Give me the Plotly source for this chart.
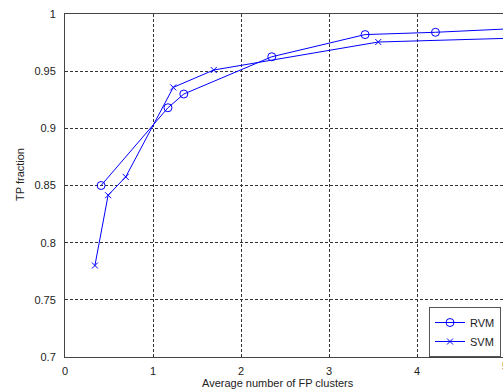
import plotly.graph_objects as go

# Data
rvm_x = [0.41, 1.17, 1.35, 2.35, 3.41, 4.21, 5.6]
rvm_y = [0.850, 0.918, 0.930, 0.9626, 0.982, 0.984, 0.989]
svm_x = [0.34, 0.49, 0.69, 1.23, 1.69, 3.56, 5.6]
svm_y = [0.780, 0.8415, 0.8575, 0.9358, 0.951, 0.9755, 0.980]

x_ticks = [0, 1, 2, 3, 4]
y_ticks = [0.7, 0.75, 0.8, 0.85, 0.9, 0.95, 1.0]
y_tick_text = ["0.7", "0.75", "0.8", "0.85", "0.9", "0.95", "1"]

BLUE = "#0000ff"
FONT = "Liberation Sans, Arial, sans-serif"

fig = go.Figure()
fig.add_trace(go.Scatter(
    x=rvm_x, y=rvm_y, name="RVM", mode="lines+markers",
    line=dict(color=BLUE, width=1),
    marker=dict(symbol="circle-open", size=8, color=BLUE, line=dict(width=1, color=BLUE)),
))
fig.add_trace(go.Scatter(
    x=svm_x, y=svm_y, name="SVM", mode="lines+markers",
    line=dict(color=BLUE, width=1),
    marker=dict(symbol="x-thin-open", size=6, color=BLUE, line=dict(width=1, color=BLUE)),
))

W, H = 503, 391
ML, MT, MB, MR = 65, 14, 34, 0
pw = W - ML - MR
ph = H - MT - MB
px_per_unit = 88.0

fig.update_layout(
    width=W, height=H,
    margin=dict(l=ML, r=MR, t=MT, b=MB, pad=0),
    paper_bgcolor="white", plot_bgcolor="white",
    font=dict(family=FONT, size=11, color="#222222"),
    showlegend=True,
    legend=dict(
        x=(429 - ML) / pw, y=0, xanchor="left", yanchor="bottom",
        bgcolor="white", bordercolor="#555555", borderwidth=1,
        font=dict(size=11, color="#222222"),
        tracegroupgap=0, itemwidth=30, entrywidth=90,
    ),
    xaxis=dict(
        range=[0, pw / px_per_unit], tickvals=x_ticks,
        showgrid=True, gridcolor="#333333", griddash="3px,2px", gridwidth=1,
        zeroline=False, showline=True, linecolor="#444444", linewidth=1, mirror=True,
        ticks="", ticklabelstandoff=4,
    ),
    yaxis=dict(
        range=[0.7, 1.0], tickvals=y_ticks, ticktext=y_tick_text,
        showgrid=True, gridcolor="#333333", griddash="3px,2px", gridwidth=1,
        zeroline=False, showline=True, linecolor="#444444", linewidth=1, mirror=True,
        ticks="", ticklabelstandoff=6,
    ),
    annotations=[
        dict(text="Average number of FP clusters", xref="paper", yref="paper",
             x=(278 - ML) / pw, y=-(383 - (H - MB)) / ph,
             xanchor="center", yanchor="middle", showarrow=False,
             font=dict(size=11, color="#222222")),
        dict(text="TP fraction", xref="paper", yref="paper",
             x=(20 - ML) / pw, y=((H - MB) - 175) / ph,
             xanchor="center", yanchor="middle", showarrow=False, textangle=-90,
             font=dict(size=11, color="#222222")),
        dict(text="5", xref="paper", yref="paper",
             x=(505 - ML) / pw, y=-(366 - (H - MB)) / ph,
             xanchor="center", yanchor="middle", showarrow=False,
             font=dict(size=11, color="#222222")),
    ],
)

fig.write_html(
    "out.html",
    config={"displayModeBar": False},
    post_script="document.body.style.margin='0';document.body.style.overflow='hidden';",
)
